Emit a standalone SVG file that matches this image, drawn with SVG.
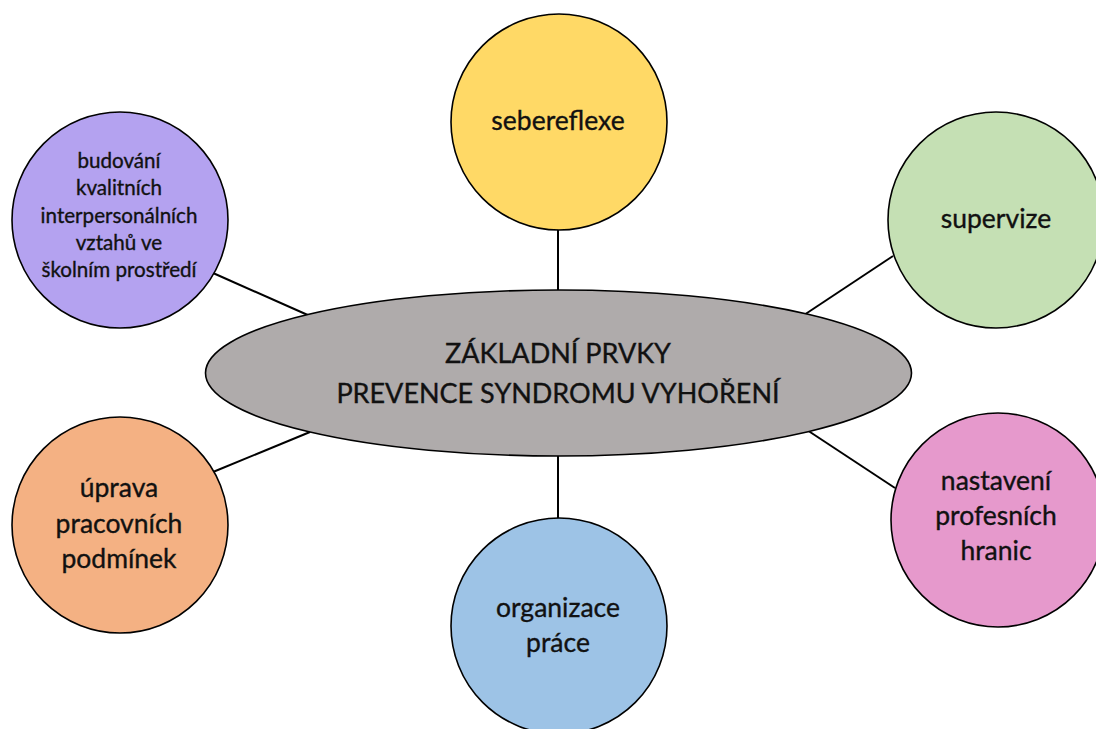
<svg xmlns="http://www.w3.org/2000/svg" width="1096" height="729" viewBox="0 0 1096 729">
<style>
.node{stroke:#000;stroke-width:1.6}
.edge{stroke:#000;stroke-width:2;fill:none}
text{font-family:Lato,"Liberation Sans",sans-serif;fill:#111;stroke:#111;stroke-width:0.35;text-anchor:middle}
.lg{font-size:26.5px}
.sm{font-size:20.6px}
.ct{font-size:27px}
</style>
<rect width="1096" height="729" fill="#fff"/>
<g id="connectors">
<line class="edge" x1="558" y1="228" x2="558" y2="295"/>
<line class="edge" x1="558" y1="452" x2="558" y2="520"/>
<line class="edge" x1="213" y1="273" x2="310" y2="316"/>
<line class="edge" x1="893" y1="256" x2="804" y2="315"/>
<line class="edge" x1="213" y1="472" x2="310" y2="432"/>
<line class="edge" x1="807" y1="430" x2="895" y2="488"/>
</g>
<g id="center">
<ellipse class="node" cx="558.5" cy="373" rx="353" ry="83" fill="#AFABAB"/>
<text class="ct" x="558" y="363">ZÁKLADNÍ PRVKY</text>
<text class="ct" x="558" y="403">PREVENCE SYNDROMU VYHOŘENÍ</text>
</g>
<g id="sebereflexe">
<circle class="node" cx="559" cy="122" r="108" fill="#FFD966"/>
<text class="lg" x="558" y="130">sebereflexe</text>
</g>
<g id="supervize">
<circle class="node" cx="996" cy="220" r="108" fill="#C5E0B4"/>
<text class="lg" x="996" y="228">supervize</text>
</g>
<g id="nastaveni">
<circle class="node" cx="998" cy="520" r="107" fill="#E699CC"/>
<text class="lg" x="996" y="490">nastavení</text>
<text class="lg" x="996" y="525">profesních</text>
<text class="lg" x="996" y="560">hranic</text>
</g>
<g id="organizace">
<circle class="node" cx="559" cy="626" r="108" fill="#9DC3E6"/>
<text class="lg" x="558" y="617">organizace</text>
<text class="lg" x="558" y="652">práce</text>
</g>
<g id="uprava">
<circle class="node" cx="120" cy="525" r="108" fill="#F4B183"/>
<text class="lg" x="119" y="497">úprava</text>
<text class="lg" x="119" y="533">pracovních</text>
<text class="lg" x="119" y="568">podmínek</text>
</g>
<g id="budovani">
<circle class="node" cx="120" cy="220" r="108" fill="#B4A2F0"/>
<text class="sm" x="119" y="168">budování</text>
<text class="sm" x="119" y="195">kvalitních</text>
<text class="sm" x="119" y="223">interpersonálních</text>
<text class="sm" x="119" y="250">vztahů ve</text>
<text class="sm" x="119" y="277">školním prostředí</text>
</g>
</svg>
